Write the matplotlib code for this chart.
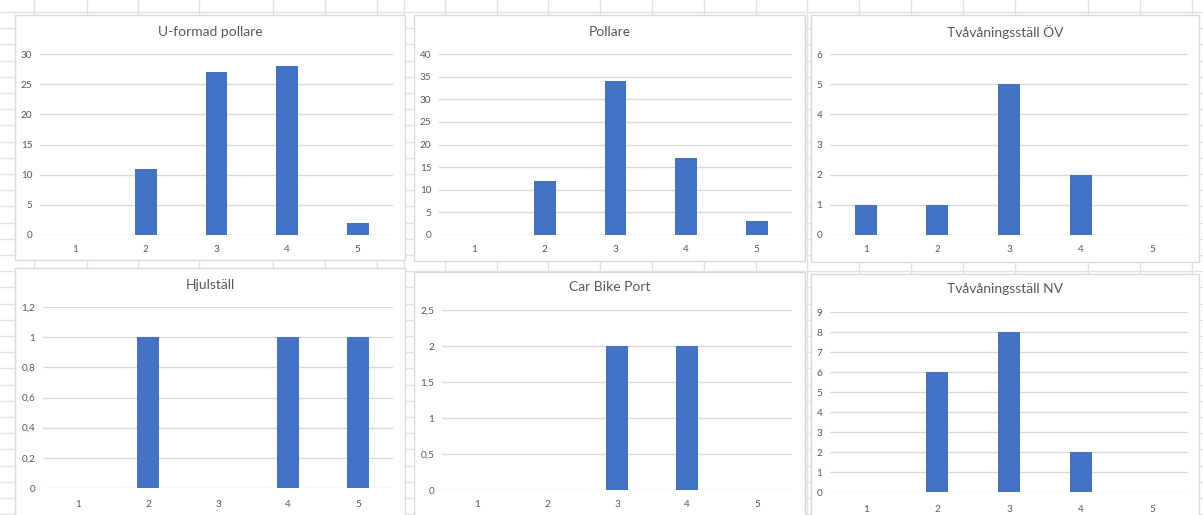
import matplotlib
matplotlib.use("Agg")
import matplotlib.pyplot as plt
from matplotlib.patches import Rectangle
from matplotlib.lines import Line2D
from matplotlib.ticker import FixedLocator, FuncFormatter

categories = ["1", "2", "3", "4", "5"]

titles = ["U-formad pollare", "Pollare", "Tvåvåningsställ ÖV",
          "Hjulställ", "Car Bike Port", "Tvåvåningsställ NV"]

u_formad_pollare = [0, 11, 27, 28, 2]
pollare = [0, 12, 34, 17, 3]
tvavaning_ov = [1, 1, 5, 2, 0]
hjulstall = [0, 1, 0, 1, 1]
car_bike_port = [0, 0, 2, 2, 0]
tvavaning_nv = [0, 6, 8, 2, 0]

series = [u_formad_pollare, pollare, tvavaning_ov, hjulstall, car_bike_port, tvavaning_nv]

y_max = [30, 40, 6, 1.2, 2.5, 9]
y_step = [5, 5, 1, 0.2, 0.5, 1]

W, H = 1203, 515
fig = plt.figure(figsize=(W / 100, H / 100), dpi=100)
fig.patch.set_facecolor("white")

FONT = ["Lato", "DejaVu Sans"]
BAR = "#4472C4"
TXT = "#595959"
GRID = "#D9D9D9"
CELL = "#E2E2E2"

def fx(x):
    return x / W

def fy(y):
    return 1 - y / H

# Excel cell grid in the background
col_x = [34, 87, 138, 199, 273, 325, 377, 404, 445, 497, 548, 600, 652, 704, 756,
         807, 859, 911, 963, 1015, 1088, 1140, 1192]
for x in col_x:
    fig.add_artist(Line2D([fx(x), fx(x)], [0, 1], color=CELL, lw=1, zorder=0))
for k in range(0, 33):
    y = 12 + 16.2 * k
    fig.add_artist(Line2D([0, 1], [fy(y), fy(y)], color=CELL, lw=1, zorder=0))

# chart boxes: (box_left, box_top, box_right, box_bottom), (grid_left, grid_right, y_top, y_zero), title_y, xlabel_y
layouts = [
    ((15, 15, 405, 260), (40, 393, 54, 235), 32, 248),
    ((414, 15, 805, 261), (439, 792, 54, 235), 32, 248),
    ((811, 15, 1199, 262), (830, 1188, 54, 235), 32, 248),
    ((15, 268, 405, 530), (43, 393, 307, 488), 285, 502),
    ((414, 272, 805, 530), (442, 792, 310, 490), 287, 503),
    ((811, 274, 1199, 530), (830, 1188, 312, 492), 289, 507),
]

def fmt(v, _):
    if abs(v - round(v)) < 1e-9:
        return str(int(round(v)))
    return ("%g" % v).replace(".", ",")

for i, (box, grid, ty, xl) in enumerate(layouts):
    bl, bt, br, bb = box
    fig.add_artist(Rectangle((fx(bl), fy(bb)), fx(br - bl), (bb - bt) / H,
                             transform=fig.transFigure, facecolor="white",
                             edgecolor=GRID, lw=1, zorder=1))
    gl, gr, yt, y0 = grid
    ax = fig.add_axes([fx(gl), fy(y0), fx(gr - gl), (y0 - yt) / H], zorder=2)
    ax.set_facecolor("none")
    xs = list(range(len(categories)))
    ax.bar(xs, series[i], width=0.31, color=BAR, zorder=3)
    ax.set_xlim(-0.5, len(categories) - 0.5)
    ax.set_ylim(0, y_max[i])
    n = int(round(y_max[i] / y_step[i]))
    ticks = [y_step[i] * k for k in range(n + 1)]
    ax.yaxis.set_major_locator(FixedLocator(ticks))
    ax.yaxis.set_major_formatter(FuncFormatter(fmt))
    ax.grid(axis="y", color=GRID, lw=1, zorder=0)
    ax.set_axisbelow(True)
    for s in ax.spines.values():
        s.set_visible(False)
    ax.set_xticks(xs)
    ax.set_xticklabels(categories)
    ax.tick_params(axis="both", length=0, labelsize=7.2, labelcolor=TXT)
    ax.tick_params(axis="y", pad=5.5)
    ax.tick_params(axis="x", pad=(xl - y0) - 5.5)
    for lab in ax.get_xticklabels() + ax.get_yticklabels():
        lab.set_fontfamily(FONT)
    fig.text(fx((bl + br) / 2), fy(ty), titles[i], ha="center", va="center",
             fontsize=10, color=TXT, family=FONT, zorder=5)

fig.savefig("out.png", dpi=100, facecolor="white")
